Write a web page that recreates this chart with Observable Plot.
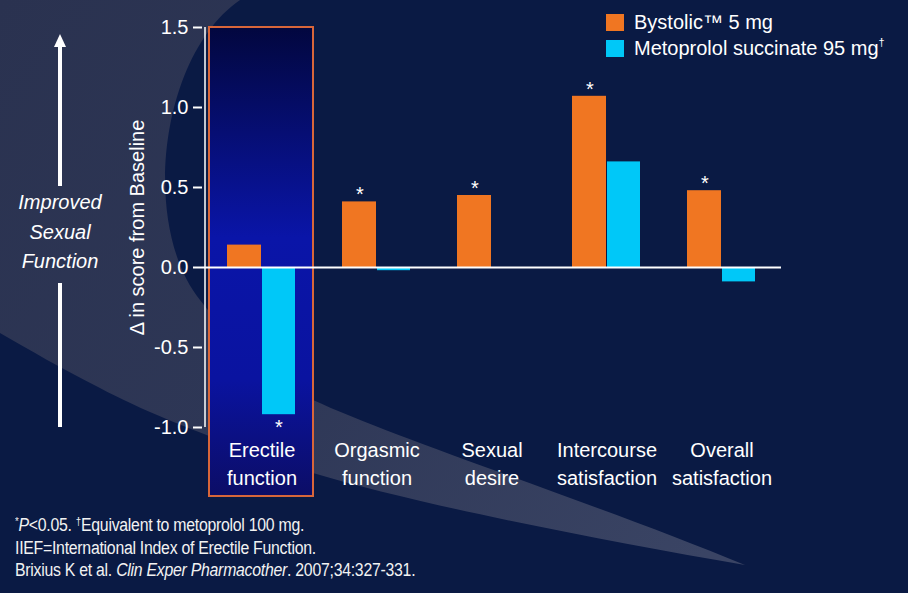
<!DOCTYPE html>
<html><head><meta charset="utf-8">
<script src="https://cdn.jsdelivr.net/npm/d3@7"></script>
<script src="https://cdn.jsdelivr.net/npm/@observablehq/plot@0.6"></script>
<style>
body{margin:0;background:#0a1a44;}
#wrap{position:relative;width:908px;height:593px;overflow:hidden;background:#0a1a44;font-family:"Liberation Sans",Arial,sans-serif;color:#fff;}
#bg{position:absolute;left:0;top:0;}
#chart{position:absolute;left:0;top:0;}
#side{position:absolute;left:0;top:188px;width:120px;text-align:center;font-style:italic;font-size:20px;line-height:29.5px;}
#legend{position:absolute;left:606px;top:9px;font-size:20px;}
#legend .row{display:flex;align-items:center;height:26px;}
#legend .sw{width:18px;height:17px;margin-right:10px;}
#legend sup{font-size:11px;vertical-align:9px;}
#foot{position:absolute;left:15px;top:510px;font-size:18px;line-height:22.5px;letter-spacing:-0.3px;color:#f2f2f2;transform:scaleX(0.88);transform-origin:0 0;white-space:nowrap;}
#foot sup{font-size:11px;vertical-align:6px;}
</style></head>
<body><div id="wrap">
<svg id="bg" width="908" height="593">
  <defs>
    <linearGradient id="greyg" gradientUnits="userSpaceOnUse" x1="0" y1="0" x2="700" y2="560">
      <stop offset="0" stop-color="#2a3250"/>
      <stop offset="0.5" stop-color="#2e3756"/>
      <stop offset="1" stop-color="#3a4464"/>
    </linearGradient>
  </defs>
  <path d="M0 0 L240 0 C160 55 140 225 200 300 C235 345 275 383 313 400 C400 440 600 505 745 565 C600 540 420 505 313 473 C230 445 150 415 100 388 C60 368 30 350 0 333 Z" fill="url(#greyg)"/>
  <line x1="60" y1="46" x2="60" y2="186" stroke="#fff" stroke-width="4"/>
  <polygon points="54,47 66,47 60,34" fill="#fff"/>
  <line x1="60" y1="283" x2="60" y2="427" stroke="#fff" stroke-width="4"/>
</svg>
<div id="chart"></div>
<div id="side">Improved<br>Sexual<br>Function</div>
<div id="legend"></div>
<div id="foot">
  <div><sup>*</sup><i>P</i>&lt;0.05. <sup>†</sup>Equivalent to metoprolol 100 mg.</div>
  <div>IIEF=International Index of Erectile Function.</div>
  <div>Brixius K et al. <i>Clin Exper Pharmacother</i>. 2007;34:327-331.</div>
</div>
</div>
<script>
const categories = ["Erectile\nfunction","Orgasmic\nfunction","Sexual\ndesire","Intercourse\nsatisfaction","Overall\nsatisfaction"];
const bystolic = [0.14, 0.41, 0.45, 1.07, 0.48];
const metoprolol = [-0.92, -0.02, 0, 0.66, -0.09];
const bystolicSig = [false, true, true, true, true];
const metoprololSig = [true, false, false, false, false];
const yTicks = [-1.0, -0.5, 0, 0.5, 1.0, 1.5];
const highlight = ["Erectile\nfunction"];
const seriesNames = ["Bystolic™ 5 mg", "Metoprolol succinate 95 mg"];
const seriesSup = ["", "†"];
const colors = ["#f07622", "#00c8f8"];
const yLabel = "Δ in score from Baseline";

const rows = categories.map((c, i) => ({cat: c, b: bystolic[i], m: metoprolol[i], bs: bystolicSig[i], ms: metoprololSig[i]}));

const gradMark = () => {
  const ns = "http://www.w3.org/2000/svg";
  const defs = document.createElementNS(ns, "defs");
  defs.innerHTML = `<linearGradient id="boxg" x1="0" y1="0" x2="0" y2="1">
    <stop offset="0" stop-color="#02073f"/>
    <stop offset="0.45" stop-color="#0a15a8"/>
    <stop offset="0.75" stop-color="#0a13a0"/>
    <stop offset="1" stop-color="#0c0d66"/>
  </linearGradient>`;
  return defs;
};

const chart = Plot.plot({
  width: 908, height: 500,
  marginTop: 27, marginBottom: 73, marginLeft: 202, marginRight: 127,
  style: {background: "transparent", color: "#fff", fontFamily: "'Liberation Sans', Arial, sans-serif", fontSize: "20px", overflow: "visible"},
  x: {domain: categories, padding: 0, axis: null},
  y: {domain: [d3.min(yTicks), d3.max(yTicks)], axis: null},
  marks: [
    gradMark,
    Plot.barY(highlight, {x: d => d, y1: d3.min(yTicks), y2: d3.max(yTicks), insetLeft: 5, insetRight: 6, insetBottom: -69, fill: "url(#boxg)", stroke: "#d8663a", strokeWidth: 2}),
    Plot.axisY({ticks: yTicks, tickFormat: d => d.toFixed(1), tickSize: 9, tickPadding: 5, fontSize: 20, strokeWidth: 2, label: null}),
    Plot.ruleX([categories[0]], {x: d => d, y1: d3.min(yTicks), y2: d3.max(yTicks), dx: -57, stroke: "#fff", strokeWidth: 1.5}),
    Plot.barY(rows, {x: "cat", y: "b", fill: colors[0], insetLeft: 23, insetRight: 58}),
    Plot.barY(rows, {x: "cat", y: "m", fill: colors[1], insetLeft: 58, insetRight: 24}),
    Plot.ruleY([0], {stroke: "#fff", strokeWidth: 2}),
    Plot.text(rows.filter(d => d.bs), {x: "cat", y: "b", text: () => "*", dx: -17, dy: -7, fontSize: 20, fill: "#fff"}),
    Plot.text(rows.filter(d => d.ms), {x: "cat", y: "m", text: () => "*", dx: 17, dy: 13, fontSize: 20, fill: "#fff"}),
    Plot.text(categories, {x: d => d, text: d => d, frameAnchor: "bottom", lineAnchor: "top", dy: 10, lineHeight: 1.4, fontSize: 20, fill: "#fff"}),
    Plot.text([yLabel], {text: d => d, frameAnchor: "left", textAnchor: "middle", rotate: -90, dx: -65, fontSize: 20, fill: "#fff"})
  ]
});
document.getElementById("chart").append(chart);

const legend = document.getElementById("legend");
seriesNames.forEach((n, i) => {
  const r = document.createElement("div");
  r.className = "row";
  r.innerHTML = `<span class="sw" style="background:${colors[i]}"></span><span>${n}${seriesSup[i] ? `<sup>${seriesSup[i]}</sup>` : ""}</span>`;
  legend.append(r);
});
</script>
</body></html>
